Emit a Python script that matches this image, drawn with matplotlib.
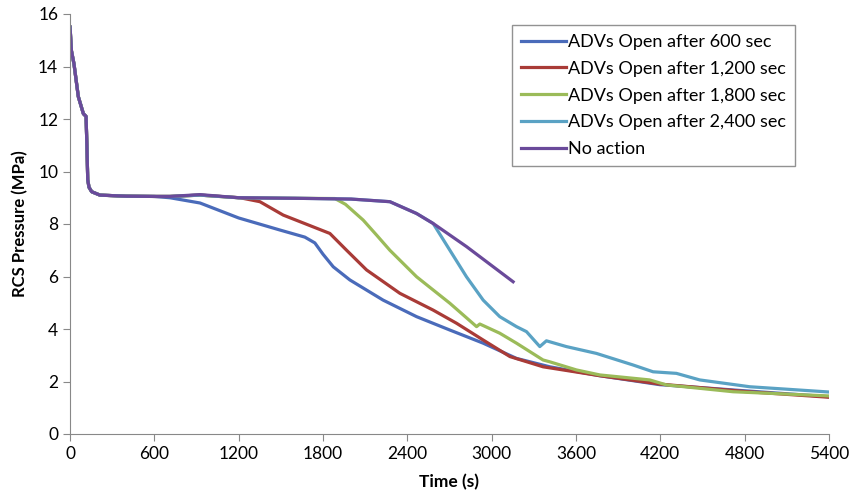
import matplotlib.pyplot as plt

# common pressure history before any operator action (s, MPa)
t_common = [0, 10, 28, 59, 95, 114, 120, 126, 135, 154, 213, 400, 600]
p_common = [15.5, 14.6, 14.1, 12.85, 12.2, 12.1, 11.0, 9.68, 9.4, 9.23, 9.1, 9.06, 9.05]

# ADVs open after 600 sec
t_600 = [711, 925, 1200, 1494, 1671, 1742, 1800, 1873, 1991, 2228, 2466, 2703, 2940, 3177, 3414,
         3770, 4196, 4765, 5400]
p_600 = [9.0, 8.8, 8.23, 7.77, 7.5, 7.28, 6.85, 6.37, 5.87, 5.1, 4.47, 3.96, 3.46, 2.88, 2.56,
         2.22, 1.88, 1.66, 1.42]

# ADVs open after 1,200 sec
t_1200 = [711, 925, 1210, 1351, 1517, 1849, 1968, 2110, 2347, 2584, 2750, 2940, 3130, 3366,
          3770, 4200, 4800, 5400]
p_1200 = [9.05, 9.1, 9.0, 8.85, 8.34, 7.64, 7.0, 6.25, 5.36, 4.72, 4.22, 3.58, 2.95, 2.56,
          2.22, 1.9, 1.62, 1.4]

# ADVs open after 1,800 sec
t_1800 = [711, 925, 1200, 1600, 1885, 1960, 2086, 2181, 2276, 2466, 2703, 2893, 2916, 3058,
          3177, 3366, 3414, 3604, 3770, 4125, 4244, 4718, 5400]
p_1800 = [9.05, 9.1, 9.0, 8.98, 8.97, 8.75, 8.15, 7.58, 7.0, 5.99, 4.98, 4.09, 4.19, 3.84,
          3.46, 2.82, 2.75, 2.44, 2.25, 2.06, 1.87, 1.61, 1.45]

# ADVs open after 2,400 sec
t_2400 = [711, 925, 1200, 1600, 2000, 2276, 2466, 2584, 2703, 2821, 2940, 3058, 3177, 3248,
          3343, 3390, 3532, 3746, 4006, 4149, 4315, 4481, 4837, 5400]
p_2400 = [9.05, 9.1, 9.0, 8.98, 8.95, 8.85, 8.4, 8.02, 7.0, 5.99, 5.1, 4.47, 4.09, 3.9,
          3.33, 3.55, 3.33, 3.07, 2.63, 2.37, 2.31, 2.06, 1.8, 1.6]

# no action
t_none = [711, 925, 1200, 1600, 2000, 2276, 2466, 2584, 2821, 3153]
p_none = [9.05, 9.12, 9.0, 8.98, 8.95, 8.85, 8.4, 8.02, 7.14, 5.8]

labels = ['ADVs Open after 600 sec', 'ADVs Open after 1,200 sec',
          'ADVs Open after 1,800 sec', 'ADVs Open after 2,400 sec', 'No action']
colors = ['#4A6BBA', '#A93B37', '#9BBB59', '#5AA2C4', '#6A4A9A']

plt.rcParams['font.family'] = ['Lato', 'DejaVu Sans']

fig = plt.figure(figsize=(8.51, 5.0), dpi=100)
ax = fig.add_axes([0.0823, 0.132, 0.8917, 0.84])

series = [(t_600, p_600), (t_1200, p_1200), (t_1800, p_1800), (t_2400, p_2400), (t_none, p_none)]
for (t, p), lab, c in zip(series, labels, colors):
    ax.plot(t_common + t, p_common + p, color=c, lw=2.3, label=lab)

ax.set_xlim(0, 5400)
ax.set_ylim(0, 16)
ax.set_xticks(range(0, 5401, 600))
ax.set_yticks(range(0, 17, 2))
ax.tick_params(labelsize=12.5, colors='#888888', labelcolor='black', length=5, direction='out')
for s in ['top', 'right']:
    ax.spines[s].set_visible(False)
for s in ['left', 'bottom']:
    ax.spines[s].set_color('#888888')
ax.set_xlabel('Time (s)', fontsize=12.5, fontweight='bold', labelpad=9)
ax.set_ylabel('RCS Pressure (MPa)', fontsize=12, fontweight='bold', labelpad=7)

leg = ax.legend(loc='upper left', bbox_to_anchor=(0.5823, 0.974), borderaxespad=0,
                fontsize=13, handlelength=2.5, handletextpad=0.1, labelspacing=0.6,
                fancybox=False, edgecolor='#777777', borderpad=0.5)
leg.get_frame().set_linewidth(1.0)

fig.savefig('out.png', dpi=100)
